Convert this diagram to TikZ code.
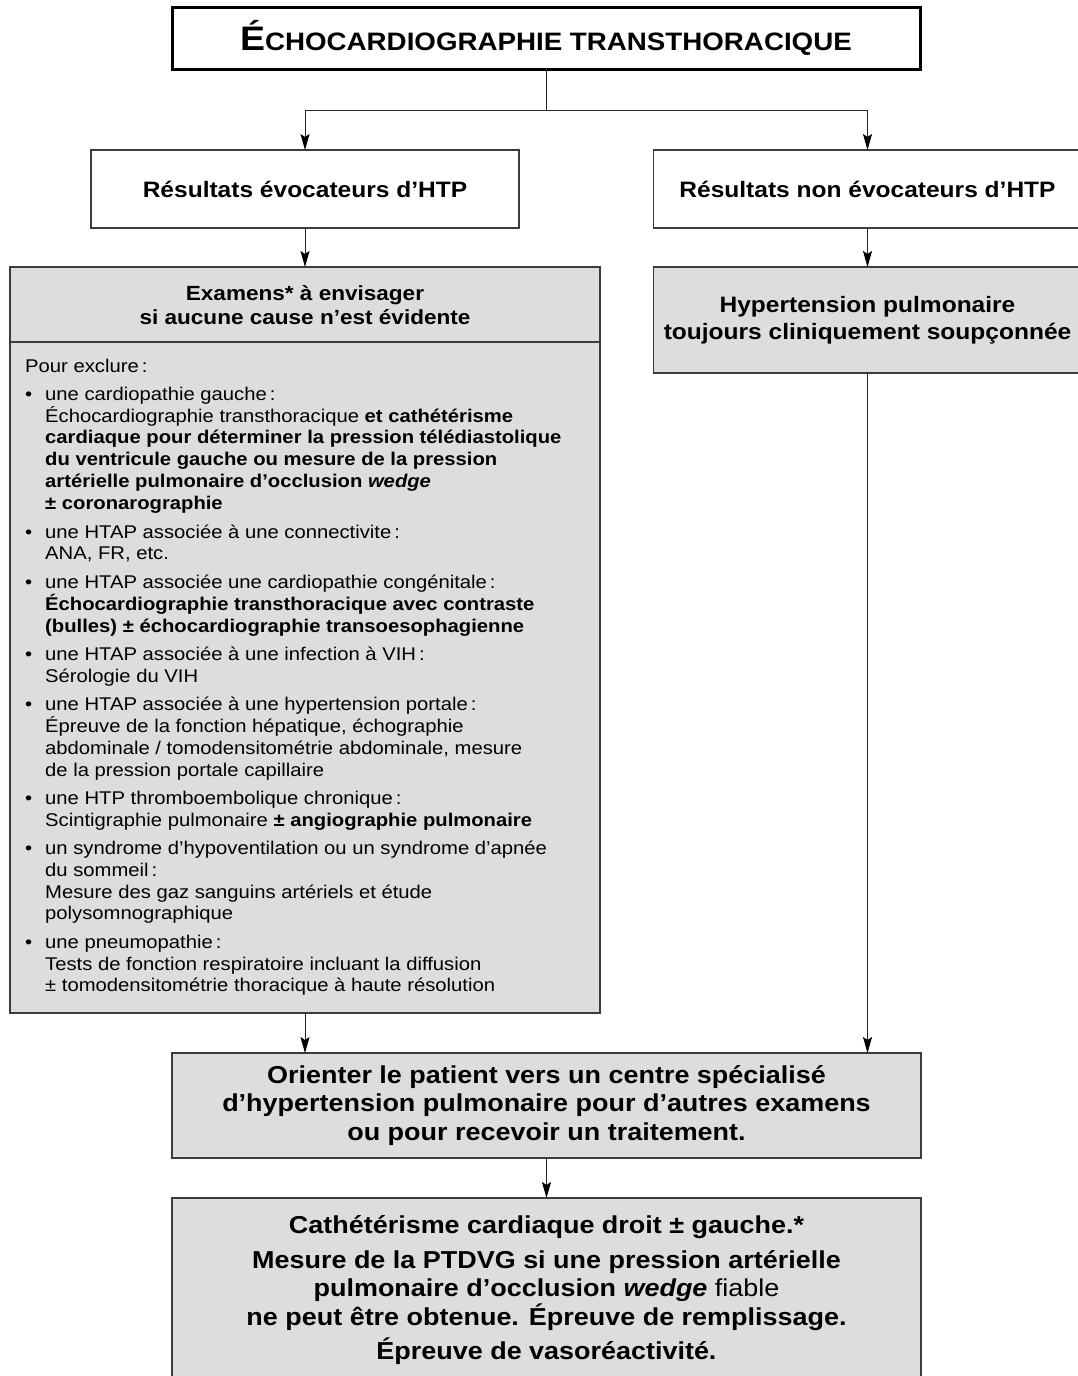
\documentclass[tikz,border=0pt]{standalone}
\usepackage{fontspec}
\setmainfont{Liberation Sans}[FakeStretch=1.1]
\usetikzlibrary{arrows.meta}
\definecolor{boxgray}{RGB}{221,221,221}
\definecolor{edgegray}{RGB}{60,60,60}
\newcommand{\B}{\makebox[20pt][l]{•}}
\newcommand{\I}{\hspace*{20pt}}
\begin{document}
\begin{tikzpicture}[x=1pt,y=-1pt,
  box/.style={draw=edgegray, line width=1.1pt, rectangle, outer sep=0pt, inner sep=0pt, align=center},
  graybox/.style={box, fill=boxgray},
  conn/.style={line width=0.9pt, draw=black!85},
  arr/.style={conn, -{Stealth[length=16pt,width=9pt,inset=3pt,color=black]}},
  hfont/.style={font=\fontsize{22.3}{27}\selectfont\bfseries},
  bigfont/.style={font=\fontsize{24.5}{28.5}\selectfont\bfseries}
]
\useasboundingbox (0,0) rectangle (1077,1376);
\fill[white] (0,0) rectangle (1077,1376);

% boxes
\node[box, draw=black, line width=3pt, minimum width=748pt, minimum height=62pt] (title) at (546,38)
  {\bfseries{\fontsize{34}{30}\selectfont É}{\fontsize{25.2}{30}\selectfont CHOCARDIOGRAPHIE TRANSTHORACIQUE}};

\node[box, fill=white, minimum width=428pt, minimum height=78pt, hfont] (r1) at (305,189)
  {Résultats évocateurs d’HTP};
\node[box, fill=white, minimum width=428pt, minimum height=78pt, hfont] (r2) at (867.5,189)
  {Résultats non évocateurs d’HTP};

\node[graybox, minimum width=590pt, minimum height=746pt] (exam) at (305,640) {};
\node[font=\fontsize{20.5}{24}\selectfont\bfseries, align=center, inner sep=0pt] (examhead) at (305,305)
  {Examens* à envisager\\si aucune cause n’est évidente};
\coordinate (divl) at (10,342);
\coordinate (divr) at (600,342);
\draw[draw=edgegray, line width=1.1pt] (divl) -- (divr);

\node[font=\fontsize{18.4}{21.8}\selectfont, align=left, anchor=north west, inner sep=0pt] (list) at (25,358.5)
{Pour exclure\,:\\[6.5pt]
\B une cardiopathie gauche\,:\\
\I Échocardiographie transthoracique \textbf{et cathétérisme}\\
\I \textbf{cardiaque pour déterminer la pression télédiastolique}\\
\I \textbf{du ventricule gauche ou mesure de la pression}\\
\I \textbf{artérielle pulmonaire d’occlusion \textit{wedge}}\\
\I \textbf{± coronarographie}\\[7pt]
\B une HTAP associée à une connectivite\,:\\
\I ANA, FR, etc.\\[7pt]
\B une HTAP associée une cardiopathie congénitale\,:\\
\I \textbf{Échocardiographie transthoracique avec contraste}\\
\I \textbf{(bulles) ± échocardiographie transoesophagienne}\\[6.5pt]
\B une HTAP associée à une infection à VIH\,:\\
\I Sérologie du VIH\\[6.5pt]
\B une HTAP associée à une hypertension portale\,:\\
\I Épreuve de la fonction hépatique, échographie\\
\I abdominale / tomodensitométrie abdominale, mesure\\
\I de la pression portale capillaire\\[6.5pt]
\B une HTP thromboembolique chronique\,:\\
\I Scintigraphie pulmonaire \textbf{± angiographie pulmonaire}\\[6.5pt]
\B un syndrome d’hypoventilation ou un syndrome d’apnée\\
\I du sommeil\,:\\
\I Mesure des gaz sanguins artériels et étude\\
\I polysomnographique\\[6.5pt]
\B une pneumopathie\,:\\
\I Tests de fonction respiratoire incluant la diffusion\\
\I ± tomodensitométrie thoracique à haute résolution};

\node[graybox, minimum width=428pt, minimum height=106pt, hfont] (hyp) at (867.5,320)
  {Hypertension pulmonaire\\toujours cliniquement soupçonnée};

\node[graybox, minimum width=749pt, minimum height=105pt, bigfont] (orient) at (546.5,1105.5)
  {Orienter le patient vers un centre spécialisé\\d’hypertension pulmonaire pour d’autres examens\\ou pour recevoir un traitement.};

\node[graybox, minimum width=749pt, minimum height=185pt, bigfont] (cath) at (546.5,1290.5)
  {Cathétérisme cardiaque droit ± gauche.*\\[6pt]
   Mesure de la PTDVG si une pression artérielle\\
   pulmonaire d’occlusion \textit{wedge}\mdseries\ fiable\\
   \bfseries ne peut être obtenue. Épreuve de remplissage.\\[6pt]
   Épreuve de vasoréactivité.};

% connectors
\coordinate (split) at (546,110);
\draw[conn] (title.south) -- (split);
\draw[arr] (split) -| (r1.north);
\draw[arr] (split) -| (r2.north);
\draw[arr] (r1.south) -- (exam.north);
\draw[arr] (r2.south) -- (hyp.north);
\draw[arr] (exam.south) -- (exam.south |- orient.north);
\draw[arr] (hyp.south) -- (hyp.south |- orient.north);
\draw[arr] (orient.south) -- (cath.north);
\end{tikzpicture}
\end{document}
